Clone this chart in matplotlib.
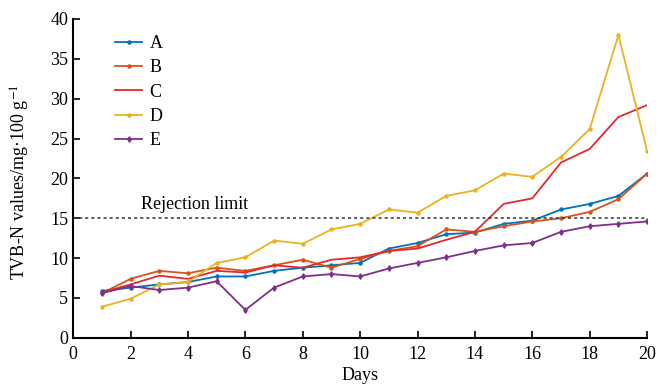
import matplotlib.pyplot as plt

days = list(range(1, 21))
A = [5.9, 6.3, 6.7, 7.0, 7.7, 7.7, 8.4, 8.8, 9.1, 9.4, 11.2, 11.9, 13.0, 13.2, 14.3, 14.7, 16.1, 16.8, 17.8, 20.6]
B = [5.6, 7.4, 8.4, 8.1, 8.8, 8.4, 9.1, 9.8, 8.8, 9.9, 10.9, 11.5, 13.6, 13.3, 14.0, 14.6, 15.0, 15.8, 17.4, 20.6]
C = [5.7, 6.7, 7.8, 7.4, 8.4, 8.2, 9.1, 8.8, 9.8, 10.1, 10.9, 11.2, 12.3, 13.3, 16.8, 17.5, 22.0, 23.7, 27.7, 29.2]
D = [3.9, 4.9, 6.7, 7.0, 9.4, 10.1, 12.2, 11.8, 13.6, 14.3, 16.1, 15.7, 17.8, 18.5, 20.6, 20.2, 22.7, 26.2, 38.0, 23.4]
E = [5.6, 6.5, 6.0, 6.3, 7.1, 3.5, 6.3, 7.7, 8.0, 7.7, 8.7, 9.4, 10.1, 10.9, 11.6, 11.9, 13.3, 14.0, 14.3, 14.6]
limit = 15

plt.rcParams['font.family'] = ['Liberation Serif', 'DejaVu Serif']
plt.rcParams['font.size'] = 13
plt.rcParams['mathtext.fontset'] = 'stix'

fig = plt.figure(figsize=(6.59, 3.87), dpi=100)
ax = fig.add_axes([0.111, 0.127, 0.871, 0.824])

ax.plot(days, A, color='#0072BD', marker='o', markersize=2.2, lw=1.3, label='A')
ax.plot(days, B, color='#D95319', marker='o', markersize=2.2, lw=1.3, label='B')
ax.plot(days, C, color='#E8262B', lw=1.3, label='C')
ax.plot(days, D, color='#EDB120', marker='o', markersize=2.2, lw=1.3, label='D')
ax.plot(days, E, color='#7E2F8E', marker='d', markersize=2.8, lw=1.3, label='E')

ax.plot([0, 20], [limit, limit], color='#333333', linestyle=(0, (2, 2)), lw=1.1)
ax.text(2.35, 16.7, 'Rejection limit', ha='left', va='center', fontsize=13)

ax.set_xlim(0, 20)
ax.set_ylim(0, 40)
ax.set_xticks(range(0, 21, 2))
ax.set_yticks(range(0, 41, 5))
ax.tick_params(direction='in', length=5, width=1.2, labelsize=13)
ax.tick_params(axis='x', pad=6)
ax.spines['top'].set_visible(False)
ax.spines['right'].set_visible(False)
ax.spines['left'].set_linewidth(1.5)
ax.spines['bottom'].set_linewidth(1.5)

ax.set_xlabel('Days', fontsize=13, labelpad=3)
ax.set_ylabel('TVB-N values/mg·100 g$^{-1}$', fontsize=13)
ax.yaxis.set_label_coords(-0.072, 0.49)

ax.legend(loc='upper left', bbox_to_anchor=(0.045, 1.0), frameon=False,
          handlelength=1.5, handletextpad=0.4, labelspacing=0.4, fontsize=13)

fig.savefig('out.png', dpi=100)
